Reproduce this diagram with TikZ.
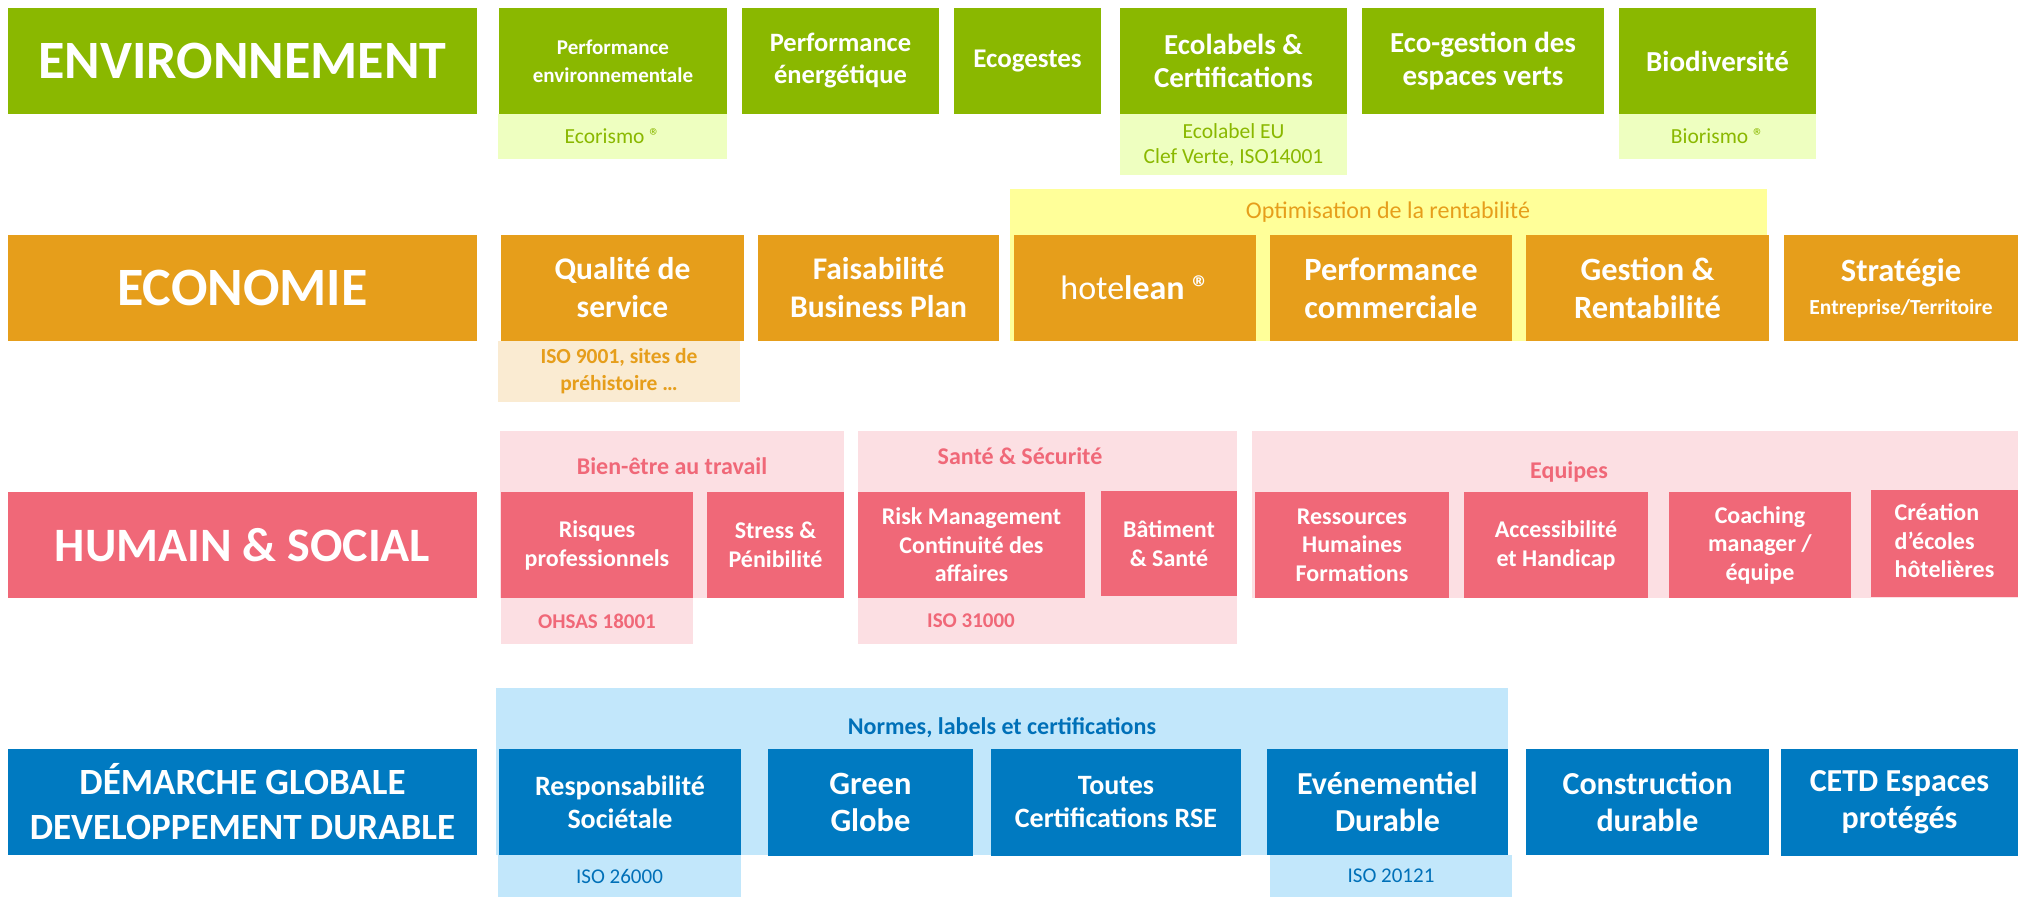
\documentclass[tikz,border=0pt]{standalone}
\usepackage{fontspec}
\setmainfont{Carlito}
\definecolor{cgreen}{HTML}{8AB800}
\definecolor{clgreen}{HTML}{EEFFC0}
\definecolor{corange}{HTML}{E69E1B}
\definecolor{clorange}{HTML}{FAEBD2}
\definecolor{cyellow}{HTML}{FFFF99}
\definecolor{cpink}{HTML}{F06878}
\definecolor{clpink}{HTML}{FCDFE3}
\definecolor{cblue}{HTML}{007AC1}
\definecolor{clblue}{HTML}{C2E7FB}
\definecolor{tblue}{HTML}{0070B8}
\newcommand\fs[2]{\fontsize{#1}{#2}\selectfont}
\newcommand\rbox[7]{\node[#1, minimum width={(#5)-(#3)}, minimum height={(#6)-(#4)}] (#2) at ({((#3)+(#5))/2},{((#4)+(#6))/2}) {#7};}
\tikzset{
  blk/.style={inner sep=0pt, outer sep=0pt, align=center, text=white, font=\bfseries},
  gbox/.style={blk, fill=cgreen},
  obox/.style={blk, fill=corange},
  pbox/.style={blk, fill=cpink},
  bbox/.style={blk, fill=cblue},
  gsub/.style={blk, fill=clgreen, text=cgreen, font=\fs{21.5}{25}},
  osub/.style={blk, fill=clorange, text=corange, font=\bfseries\fs{21.5}{27}},
  psub/.style={blk, fill=clpink, text=cpink, font=\bfseries\fs{21}{25}},
  bsub/.style={blk, fill=clblue, text=tblue, font=\fs{21}{25}},
  band/.style={inner sep=0pt, outer sep=0pt},
  lbl/.style={inner sep=0pt, outer sep=0pt, align=center},
}
\begin{document}
\begin{tikzpicture}[x=1pt,y=-1pt]
\useasboundingbox (0,0) rectangle (2018,897);
% ---------- Row 1 : Environnement
\rbox{gbox,font=\bfseries\fs{54}{64}}{envT}{8}{8}{477}{114}{ENVIRONNEMENT}
\rbox{gsub}{e1s}{498}{114}{727}{159}{Ecorismo ®}
\rbox{gbox,font=\bfseries\fs{21}{28}}{e1}{499}{8}{727}{114}{Performance\\environnementale}
\rbox{gbox,font=\bfseries\fs{26.5}{32}}{e2}{742}{8}{939}{114}{Performance\\énergétique}
\rbox{gbox,font=\bfseries\fs{27}{32}}{e3}{954}{8}{1101}{114}{Ecogestes}
\rbox{gsub}{e4s}{1120}{114}{1347}{175}{Ecolabel EU\\Clef Verte, ISO14001}
\rbox{gbox,font=\bfseries\fs{29}{33}}{e4}{1120}{8}{1347}{114}{Ecolabels \&\\Certifications}
\rbox{gbox,font=\bfseries\fs{29}{33}}{e5}{1362}{8}{1604}{114}{Eco-gestion des\\espaces verts}
\rbox{gsub}{e6s}{1619}{114}{1816}{159}{Biorismo ®}
\rbox{gbox,font=\bfseries\fs{29}{33}}{e6}{1619}{8}{1816}{114}{Biodiversité}
% ---------- Row 2 : Economie
\rbox{band,fill=cyellow}{optB}{1010}{189}{1767}{341}{}
\node[lbl, text=corange, font=\fs{24}{28}] (optL) at (1388,212) {Optimisation de la rentabilité};
\rbox{obox,font=\bfseries\fs{54}{64}}{ecoT}{8}{235}{477}{341}{ECONOMIE}
\rbox{osub}{o1s}{498}{341}{740}{402}{ISO 9001, sites de\\préhistoire …}
\rbox{obox,font=\bfseries\fs{31.5}{38}}{o1}{501}{235}{744}{341}{Qualité de\\service}
\rbox{obox,font=\bfseries\fs{31.5}{38}}{o2}{758}{235}{999}{341}{Faisabilité\\Business Plan}
\rbox{obox,font=\fs{34}{40}}{o3}{1014}{235}{1256}{341}{hote{\bfseries lean ®}}
\rbox{obox,font=\bfseries\fs{32.5}{38}}{o4}{1270}{235}{1512}{341}{Performance\\commerciale}
\rbox{obox,font=\bfseries\fs{32.5}{38}}{o5}{1526}{235}{1769}{341}{Gestion \&\\Rentabilité}
\rbox{obox,font=\bfseries\fs{32.5}{33}}{o6}{1784}{235}{2018}{341}{Stratégie\\{\fs{21.5}{25}Entreprise/Territoire}}
% ---------- Row 3 : Humain & social
\rbox{band,fill=clpink}{bienB}{500}{431}{844}{598}{}
\node[lbl, text=cpink, font=\bfseries\fs{24}{28}] (bienL) at (672,466) {Bien-être au travail};
\rbox{psub}{h1s}{501}{598}{693}{644}{OHSAS 18001}
\rbox{band,fill=clpink}{santeB}{858}{431}{1237}{644}{}
\node[lbl, text=cpink, font=\bfseries\fs{24}{28}] (santeL) at (1020,456) {Santé \& Sécurité};
\node[lbl, text=cpink, font=\bfseries\fs{21}{25}] (isoL) at (971,621) {ISO 31000};
\rbox{band,fill=clpink}{eqB}{1252}{431}{2018}{598}{}
\node[lbl, text=cpink, font=\bfseries\fs{24}{28}] (eqL) at (1569,472) {Equipes};
\rbox{pbox,font=\bfseries\fs{48}{58}}{humT}{8}{492}{477}{598}{HUMAIN \& SOCIAL}
\rbox{pbox,font=\bfseries\fs{24}{29}}{h1}{501}{492}{693}{598}{Risques\\professionnels}
\rbox{pbox,font=\bfseries\fs{24}{29}}{h2}{707}{492}{844}{598}{Stress \&\\Pénibilité}
\rbox{pbox,font=\bfseries\fs{24}{28.5}}{h3}{858}{492}{1085}{598}{Risk Management\\Continuité des\\affaires}
\rbox{pbox,font=\bfseries\fs{24}{29}}{h4}{1101}{491}{1237}{596}{Bâtiment\\\& Santé}
\rbox{pbox,font=\bfseries\fs{24}{28.5}}{h5}{1255}{492}{1449}{598}{Ressources\\Humaines\\Formations}
\rbox{pbox,font=\bfseries\fs{24}{29}}{h6}{1464}{492}{1648}{598}{Accessibilité\\et Handicap}
\rbox{pbox,font=\bfseries\fs{24}{28.5}}{h7}{1669}{492}{1851}{598}{Coaching\\manager /\\équipe}
\rbox{pbox,font=\bfseries\fs{24}{28.5}}{h8}{1871}{490}{2018}{597}{\begin{tabular}{@{}l@{}}Création\\d’écoles\\hôtelières\end{tabular}}
% ---------- Row 4 : Demarche globale
\rbox{band,fill=clblue}{normB}{496}{688}{1508}{855}{}
\node[lbl, text=tblue, font=\bfseries\fs{24}{28}] (normL) at (1002,728) {Normes, labels et certifications};
\rbox{bsub}{d1s}{498}{855}{741}{897}{ISO 26000}
\rbox{bsub}{d4s}{1270}{855}{1512}{897}{ISO 20121}
\rbox{bbox,font=\bfseries\fs{37}{45}}{demT}{8}{749}{477}{855}{DÉMARCHE GLOBALE\\DEVELOPPEMENT DURABLE}
\rbox{bbox,font=\bfseries\fs{28}{33}}{d1}{499}{749}{741}{855}{Responsabilité\\Sociétale}
\rbox{bbox,font=\bfseries\fs{32.5}{37}}{d2}{768}{749}{973}{856}{Green\\Globe}
\rbox{bbox,font=\bfseries\fs{28}{33}}{d3}{991}{749}{1241}{856}{Toutes\\Certifications RSE}
\rbox{bbox,font=\bfseries\fs{32}{37}}{d4}{1267}{749}{1508}{855}{Evénementiel\\Durable}
\rbox{bbox,font=\bfseries\fs{32}{37}}{d5}{1526}{749}{1769}{855}{Construction\\durable}
\rbox{bbox,font=\bfseries\fs{32}{37}}{d6}{1781}{749}{2018}{856}{CETD Espaces\\protégés}
\end{tikzpicture}
\end{document}
